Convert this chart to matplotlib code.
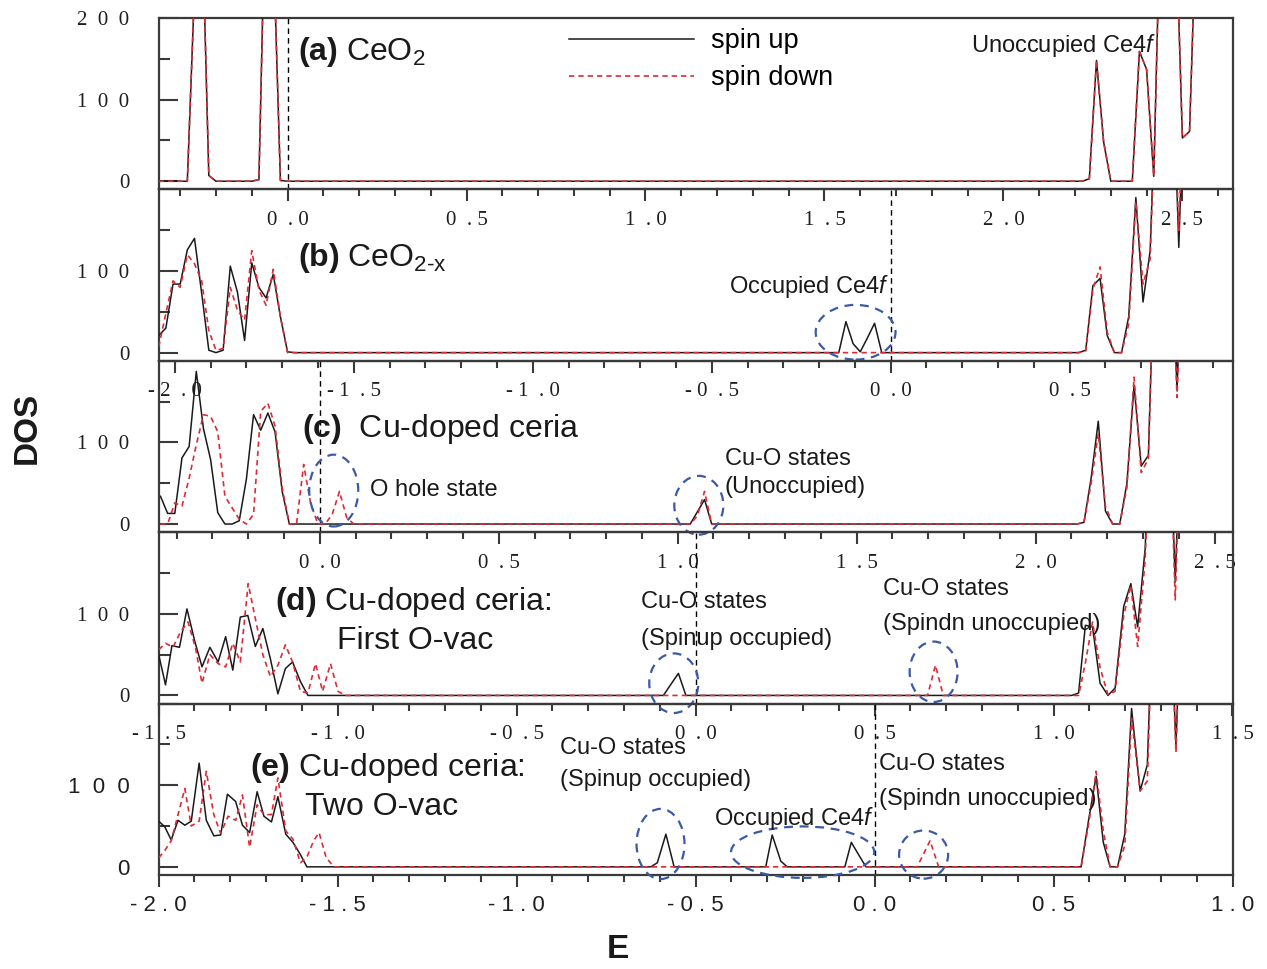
import matplotlib
matplotlib.use("Agg")
import matplotlib.pyplot as plt
from matplotlib.patches import Ellipse
from matplotlib.ticker import MultipleLocator

plt.rcParams['font.family'] = ['Liberation Sans', 'DejaVu Sans']
plt.rcParams['mathtext.fontset'] = 'custom'
plt.rcParams['mathtext.rm'] = 'Liberation Sans'
plt.rcParams['mathtext.it'] = 'Liberation Sans:italic'
plt.rcParams['mathtext.bf'] = 'Liberation Sans:bold'

# ---------------- data ----------------
# panel (a) CeO2
a_up_E = [-0.36, -0.28, -0.26, -0.24, -0.22, -0.20, -0.10, -0.08, -0.06, -0.04, -0.02, 0.00,
          2.22, 2.24, 2.26, 2.28, 2.30, 2.36, 2.38, 2.40, 2.42, 2.44, 2.48, 2.50, 2.52, 2.54, 2.64]
a_up = [0, 0, 235, 345, 7, 0, 0, 2, 390, 295, 1, 0,
        0, 3, 148, 48, 0, 0, 159, 137, 6, 360, 345, 53, 61, 340, 400]
a_dn_E = [-0.36, -0.28, -0.26, -0.24, -0.22, -0.20, -0.10, -0.08, -0.06, -0.04, -0.02, 0.00,
          2.22, 2.24, 2.26, 2.28, 2.30, 2.36, 2.38, 2.40, 2.42, 2.44, 2.48, 2.50, 2.52, 2.54, 2.64]
a_dn = [0, 0, 235, 345, 7, 0, 0, 2, 390, 295, 1, 0,
        0, 3, 148, 48, 0, 0, 159, 137, 6, 360, 345, 53, 61, 340, 400]

# panel (b) CeO2-x
b_up_E = [-2.045, -2.025, -2.005, -1.985, -1.965, -1.945, -1.925, -1.905, -1.885, -1.865,
          -1.845, -1.825, -1.805, -1.785, -1.765, -1.745, -1.725, -1.705, -1.685, -1.665,
          -0.145, -0.125, -0.105, -0.085, -0.065, -0.045, -0.025,
          0.525, 0.545, 0.565, 0.585, 0.605, 0.625, 0.645, 0.665, 0.685, 0.705, 0.725,
          0.745, 0.765, 0.785, 0.805, 0.825, 0.955]
b_up = [21, 30, 84, 84, 126, 140, 73, 3, 0, 3,
        106, 74, 15, 110, 80, 67, 96, 44, 1, 0,
        0, 38, 11, 1, 18, 36, 0,
        0, 3, 82, 91, 21, 0, 0, 44, 190, 62, 125,
        380, 400, 400, 129, 400, 400]
b_dn_E = [-2.045, -2.025, -2.005, -1.985, -1.965, -1.945, -1.925, -1.905, -1.885, -1.865,
          -1.845, -1.825, -1.805, -1.785, -1.765, -1.745, -1.725, -1.705, -1.685,
          0.525, 0.545, 0.565, 0.585, 0.605, 0.625, 0.645, 0.665, 0.685, 0.705, 0.725,
          0.745, 0.765, 0.785, 0.805, 0.825, 0.955]
b_dn = [7, 48, 88, 80, 120, 109, 88, 27, 3, 5,
        80, 52, 40, 125, 77, 58, 102, 44, 0,
        0, 2, 78, 105, 25, 0, 0, 35, 185, 84, 115,
        380, 400, 400, 150, 400, 400]

# panel (c) Cu-doped ceria
c_up_E = [-0.445, -0.425, -0.405, -0.385, -0.365, -0.345, -0.325, -0.305, -0.285, -0.265,
          -0.245, -0.225, -0.205, -0.185, -0.165, -0.145, -0.125, -0.105, -0.085,
          1.035, 1.055, 1.075, 1.095,
          2.115, 2.135, 2.155, 2.175, 2.195, 2.215, 2.235, 2.255, 2.275, 2.295, 2.315,
          2.335, 2.355, 2.375, 2.395, 2.415, 2.55]
c_up = [34, 13, 13, 81, 95, 187, 117, 79, 14, 0,
        0, 4, 55, 134, 115, 136, 113, 40, 0,
        0, 15, 30, 0,
        0, 2, 56, 126, 16, 0, 0, 50, 170, 71, 84,
        380, 400, 400, 164, 400, 400]
c_dn_E = [-0.445, -0.425, -0.405, -0.385, -0.365, -0.345, -0.325, -0.305, -0.285, -0.265,
          -0.245, -0.225, -0.205, -0.185, -0.165, -0.145, -0.125, -0.105, -0.085, -0.065,
          -0.045, -0.025, -0.005, 0.015, 0.035, 0.055, 0.075, 0.095,
          1.035, 1.055, 1.075, 1.095,
          2.115, 2.135, 2.155, 2.175, 2.195, 2.215, 2.235, 2.255, 2.275, 2.295, 2.315,
          2.335, 2.355, 2.375, 2.395, 2.415, 2.55]
c_dn = [0, 0, 26, 22, 56, 97, 134, 132, 113, 34,
        20, 6, 0, 12, 138, 148, 120, 44, 0, 0,
        73, 24, 0, 0, 12, 40, 8, 0,
        0, 10, 40, 0,
        0, 2, 50, 111, 22, 0, 0, 45, 180, 63, 80,
        380, 400, 400, 155, 400, 400]

# panel (d) Cu-doped ceria: first O-vac
d_up_E = [-1.500, -1.481, -1.463, -1.442, -1.421, -1.399, -1.379, -1.357, -1.334, -1.313,
          -1.293, -1.272, -1.251, -1.230, -1.209, -1.188, -1.167, -1.146, -1.126, -1.104, -1.083,
          -0.090, -0.070, -0.048, -0.027,
          1.051, 1.070, 1.089, 1.109, 1.130, 1.152, 1.172, 1.196, 1.216, 1.235, 1.256,
          1.275, 1.300, 1.320, 1.340, 1.360, 1.500]
d_up = [50, 13, 61, 59, 106, 66, 35, 59, 41, 72,
        31, 96, 98, 60, 82, 45, 2, 33, 41, 17, 0,
        0, 13, 27, 0,
        0, 3, 86, 84, 15, 0, 9, 109, 137, 84, 180,
        380, 400, 400, 139, 400, 400]
d_dn_E = [-1.500, -1.481, -1.460, -1.439, -1.418, -1.397, -1.379, -1.357, -1.334, -1.313,
          -1.293, -1.272, -1.250, -1.230, -1.209, -1.188, -1.167, -1.146, -1.126, -1.104,
          -1.083, -1.062, -1.042, -1.020, -0.999, -0.978,
          0.648, 0.670, 0.692,
          1.051, 1.070, 1.089, 1.109, 1.130, 1.152, 1.172, 1.196, 1.216, 1.235, 1.256,
          1.275, 1.300, 1.320, 1.340, 1.360, 1.500]
d_dn = [56, 64, 59, 78, 90, 58, 15, 50, 39, 35,
        64, 41, 137, 94, 50, 23, 37, 62, 41, 5,
        3, 39, 5, 39, 5, 0,
        0, 37, 0,
        0, 0, 40, 90, 34, 1, 5, 98, 135, 60, 167,
        380, 400, 400, 117, 400, 400]

# panel (e) Cu-doped ceria: two O-vac
e_up_E = [-2.000, -1.983, -1.965, -1.946, -1.927, -1.909, -1.887, -1.867, -1.846, -1.827,
          -1.808, -1.785, -1.766, -1.746, -1.725, -1.706, -1.685, -1.667, -1.645, -1.625,
          -1.604, -1.586,
          -0.625, -0.607, -0.583, -0.560, -0.304, -0.286, -0.262, -0.244,
          -0.083, -0.065, -0.042, -0.024,
          0.577, 0.599, 0.619, 0.639, 0.658, 0.679, 0.699, 0.718, 0.742, 0.762,
          0.782, 0.800, 0.820, 0.842, 0.862, 1.000]
e_up = [56, 49, 33, 57, 51, 56, 127, 57, 38, 39,
        89, 80, 51, 42, 92, 62, 55, 86, 40, 30,
        15, 0,
        0, 5, 40, 0, 0, 39, 7, 0,
        0, 30, 13, 0,
        0, 60, 111, 30, 0, 0, 40, 194, 93, 125,
        380, 400, 400, 148, 400, 400]
e_dn_E = [-2.000, -1.983, -1.965, -1.946, -1.927, -1.909, -1.887, -1.867, -1.846, -1.827,
          -1.806, -1.785, -1.766, -1.746, -1.725, -1.706, -1.685, -1.667, -1.645, -1.625,
          -1.604, -1.586, -1.567, -1.552, -1.532, -1.510,
          0.119, 0.155, 0.179,
          0.577, 0.599, 0.619, 0.639, 0.658, 0.679, 0.699, 0.718, 0.742, 0.762,
          0.782, 0.800, 0.820, 0.842, 0.862, 1.000]
e_dn = [11, 20, 32, 64, 96, 50, 56, 117, 64, 41,
        62, 57, 88, 24, 76, 64, 64, 109, 44, 34,
        5, 12, 32, 42, 11, 0,
        0, 32, 0,
        0, 55, 117, 44, 0, 0, 26, 182, 93, 105,
        380, 400, 400, 140, 400, 400]

# axis ranges and tick labels
x_ranges = [(-0.36, 2.64), (-2.045, 0.955), (-0.45, 2.55), (-1.5, 1.5), (-2.0, 1.0)]
a_ticks = [0.0, 0.5, 1.0, 1.5, 2.0, 2.5]
a_labels = ["0  . 0", "0  . 5", "1  . 0", "1  . 5", "2  . 0", "2  . 5"]
b_ticks = [-2.0, -1.5, -1.0, -0.5, 0.0, 0.5]
b_labels = ["- 2  . 0", "- 1  . 5", "- 1  . 0", "- 0  . 5", "0  . 0", "0  . 5"]
c_ticks = [0.0, 0.5, 1.0, 1.5, 2.0, 2.5]
c_labels = ["0  . 0", "0  . 5", "1  . 0", "1  . 5", "2  . 0", "2  . 5"]
d_ticks = [-1.5, -1.0, -0.5, 0.0, 0.5, 1.0, 1.5]
d_labels = ["- 1  . 5", "- 1  . 0", "- 0  . 5", "0  . 0", "0  . 5", "1  . 0", "1  . 5"]
e_ticks = [-2.0, -1.5, -1.0, -0.5, 0.0, 0.5, 1.0]
e_labels = ["- 2 . 0", "- 1 . 5", "- 1 . 0", "- 0 . 5", "0 . 0", "0 . 5", "1 . 0"]
y_ticks = [0, 100, 200]
y_labels_top = ["0", "1  0  0", "2  0  0"]
y_labels = ["0", "1  0  0", ""]
y_labels_e = ["0", "1  0  0", ""]

# ---------------- figure ----------------
W, H = 1267, 969
fig = plt.figure(figsize=(W / 100, H / 100), dpi=100)

def fx(x):
    return x / W

def fy(y):
    return 1 - y / H

left_px, right_px = 158.7, 1232.5
top_px, panel_h = 18.0, 171.4

panels = [
    (a_up_E, a_up, a_dn_E, a_dn, a_ticks, a_labels, y_labels_top),
    (b_up_E, b_up, b_dn_E, b_dn, b_ticks, b_labels, y_labels),
    (c_up_E, c_up, c_dn_E, c_dn, c_ticks, c_labels, y_labels),
    (d_up_E, d_up, d_dn_E, d_dn, d_ticks, d_labels, y_labels),
    (e_up_E, e_up, e_dn_E, e_dn, e_ticks, e_labels, y_labels_e),
]

spine_col = '#3a3a3a'
red = '#dc2b35'
axes = []
for i, (uE, u, dE, dn, xt, xl, yl) in enumerate(panels):
    t = top_px + i * panel_h
    ax = fig.add_axes([fx(left_px), fy(t + panel_h), (right_px - left_px) / W, panel_h / H])
    ax.patch.set_visible(False)
    l_up, = ax.plot(uE, u, color='#1a1a1a', lw=1.1, zorder=3)
    l_dn, = ax.plot(dE, dn, color=red, lw=1.2, ls=(0, (3.2, 2.4)), zorder=4)
    ax.axvline(0, color='k', lw=1.0, ls=(0, (4, 3)), zorder=2)
    ax.set_xlim(*x_ranges[i])
    ax.set_ylim(-10, 200)
    ax.set_xticks(xt, xl)
    ax.xaxis.set_minor_locator(MultipleLocator(0.1))
    ax.set_yticks(y_ticks, yl)
    ax.set_yticks([50, 150], minor=True)
    for s in ax.spines.values():
        s.set_color(spine_col)
        s.set_linewidth(1.6)
    ax.tick_params(axis='x', which='major', direction='out', length=8.5, width=1.5,
                   pad=7, colors=spine_col, labelcolor='#1e1e1e')
    ax.tick_params(axis='x', which='minor', direction='out', length=5, width=1.5, colors=spine_col)
    ax.tick_params(axis='y', which='major', direction='in', length=14, width=1.5,
                   pad=21, colors=spine_col, labelcolor='#1e1e1e')
    ax.tick_params(axis='y', which='minor', direction='in', length=8, width=1.5, colors=spine_col)
    if i < 4:
        for lab in ax.get_xticklabels() + ax.get_yticklabels():
            lab.set_fontfamily('Liberation Serif')
            lab.set_fontsize(15)
    else:
        for lab in ax.get_xticklabels() + ax.get_yticklabels():
            lab.set_fontfamily('Liberation Sans')
            lab.set_fontsize(16)
        ax.tick_params(axis='x', which='major', pad=6)
    axes.append((ax, l_up, l_dn))

ax_a, l_up_a, l_dn_a = axes[0]
ax_a.legend([l_up_a, l_dn_a], ['spin up', 'spin down'], loc='upper left',
            bbox_to_anchor=(fx(569), fy(28)), bbox_transform=fig.transFigure,
            frameon=False, fontsize=19.5, handlelength=4.6, handletextpad=0.65,
            labelspacing=0.42, borderpad=0, borderaxespad=0)

# ---------------- annotations ----------------
big = 23
small = 17
txt = [
    (r"$\mathbf{(a)}$ CeO$_\mathregular{2}$", 298, 60, big),
    (r"$\mathbf{(b)}$ CeO$_\mathregular{2\text{-}x}$", 298, 266, big),
    (r"$\mathbf{(c)}$  Cu-doped ceria", 302, 437, big),
    (r"$\mathbf{(d)}$ Cu-doped ceria:", 275, 610, big),
    ("First O-vac", 337, 649, big),
    (r"$\mathbf{(e)}$ Cu-doped ceria:", 250, 776, big),
    ("Two O-vac", 305, 815, big),
    (r"Unoccupied Ce4$\mathit{f}$", 971, 52, small),
    (r"Occupied Ce4$\mathit{f}$", 729, 293, small),
    ("O hole state", 370, 496, small),
    ("Cu-O states", 725, 465, small),
    ("(Unoccupied)", 725, 493, small),
    ("Cu-O states", 641, 608, small),
    ("(Spinup occupied)", 641, 645, small),
    ("Cu-O states", 883, 595, small),
    ("(Spindn unoccupied)", 883, 630, small),
    ("Cu-O states", 560, 754, small),
    ("(Spinup occupied)", 560, 786, small),
    (r"Occupied Ce4$\mathit{f}$", 714, 825, small),
    ("Cu-O states", 879, 770, small),
    ("(Spindn unoccupied)", 879, 805, small),
]
for s, x, y, fs in txt:
    fig.text(fx(x), fy(y), s, fontsize=fs, ha='left', va='baseline', color='#1a1a1a', zorder=6)

# blue dashed ellipses (panel index, E centre, DOS centre, width eV, height DOS)
ellipses = [
    (1, -0.098, 25, 0.223, 67),
    (2, 0.039, 41, 0.137, 88),
    (2, 1.059, 23, 0.137, 72),
    (3, -0.061, 15, 0.137, 73),
    (3, 0.665, 29, 0.134, 74),
    (4, -0.598, 28, 0.134, 86),
    (4, -0.201, 18, 0.40, 63),
    (4, 0.137, 15, 0.137, 59),
]
for pi, ex, ey, ew, eh in ellipses:
    ax = axes[pi][0]
    ax.add_patch(Ellipse((ex, ey), ew, eh, fill=False, ec='#3b5aa6', lw=1.6,
                         ls=(0, (4, 3)), clip_on=False, zorder=7))

fig.text(fx(27), fy(428), 'DOS', rotation=90, fontsize=24, fontweight='bold',
         ha='center', va='center', color='#1a1a1a')
fig.text(fx(618), fy(950), 'E', fontsize=24, fontweight='bold',
         ha='center', va='center', color='#1a1a1a')

fig.savefig('out.png', dpi=100)
